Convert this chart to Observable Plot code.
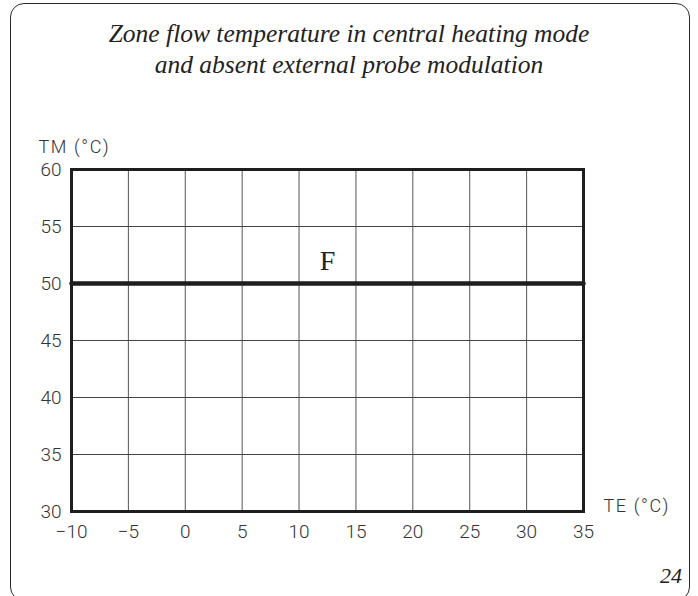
<!DOCTYPE html>
<html>
<head>
<meta charset="utf-8">
<script src="https://cdn.jsdelivr.net/npm/d3@7"></script>
<script src="https://cdn.jsdelivr.net/npm/@observablehq/plot@0.6"></script>
<style>
  html, body { margin: 0; padding: 0; background: #fff; overflow: hidden; }
  #wrap { position: relative; width: 698px; height: 596px; overflow: hidden; }
  #border { position: absolute; left: 10px; top: 3px; width: 678px; height: 596px;
            border: 1.5px solid #2a2a2a; border-radius: 14px; }
  #title { position: absolute; left: 0; top: 18px; width: 698px; text-align: center;
           font-family: "Liberation Serif", serif; font-style: italic; font-size: 25.5px;
           line-height: 31px; color: #222; }
  #page { position: absolute; left: 660px; top: 563px;
          font-family: "Liberation Serif", serif; font-style: italic; font-size: 22px; color: #222; }
  #chart { position: absolute; left: 0; top: 0; }
  #chart svg text { font-weight: 300; }
  #chart svg .lbl text { letter-spacing: 1.6px; }
</style>
</head>
<body>
<div id="wrap">
  <div id="border"></div>
  <div id="title">Zone flow temperature in central heating mode<br>and absent external probe modulation</div>
  <div id="chart"></div>
  <div id="page">24</div>
</div>
<script>
// Axis ticks
const teTicks = [-10, -5, 0, 5, 10, 15, 20, 25, 30, 35];
const tmTicks = [30, 35, 40, 45, 50, 55, 60];
// Curve F: constant flow temperature
const curveTE = [-10, 35];
const curveTM = [50, 50];
const curveName = ["F"];
const curveLabelTE = [12.5];
const curveLabelTM = [52];
const xLabel = ["TE (°C)"];
const yLabel = ["TM (°C)"];

const curve = curveTE.map((te, i) => ({te, tm: curveTM[i]}));
const labelData = curveName.map((n, i) => ({n, te: curveLabelTE[i], tm: curveLabelTM[i]}));

const innerTE = teTicks.slice(1, -1);
const innerTM = tmTicks.slice(1, -1);

const chart = Plot.plot({
  width: 698,
  height: 596,
  marginLeft: 71,
  marginRight: 115,
  marginTop: 169,
  marginBottom: 85,
  style: { fontFamily: "Roboto, sans-serif", fontSize: "19px", color: "#333", background: "transparent" },
  x: { domain: [-10, 35], ticks: teTicks },
  y: { domain: [30, 60], ticks: tmTicks },
  marks: [
    Plot.gridX(innerTE, { stroke: "#555", strokeOpacity: 1, strokeWidth: 1 }),
    Plot.gridY(innerTM, { stroke: "#444", strokeOpacity: 1, strokeWidth: 1 }),
    Plot.line(curve, { x: "te", y: "tm", stroke: "#1e1e1e", strokeWidth: 4.5 }),
    Plot.frame({ stroke: "#1e1e1e", strokeWidth: 3 }),
    Plot.axisX(teTicks, { tickSize: 0, tickPadding: 13, label: null, fill: "#333" }),
    Plot.axisY(tmTicks, { tickSize: 0, tickPadding: 10, label: null, fill: "#333" }),
    Plot.text(labelData, { x: "te", y: "tm", text: "n", fontFamily: "Liberation Serif, serif",
      fontSize: 28, fill: "#222" }),
    Plot.text(yLabel, { frameAnchor: "top-left", text: d => d, textAnchor: "start", dx: -33, dy: -29,
      fontSize: 18, fill: "#333", className: "lbl" }),
    Plot.text(xLabel, { frameAnchor: "bottom-right", text: d => d, textAnchor: "start", dx: 20,
      fontSize: 18, fill: "#333", className: "lbl" })
  ]
});
document.getElementById("chart").appendChild(chart);
</script>
</body>
</html>
